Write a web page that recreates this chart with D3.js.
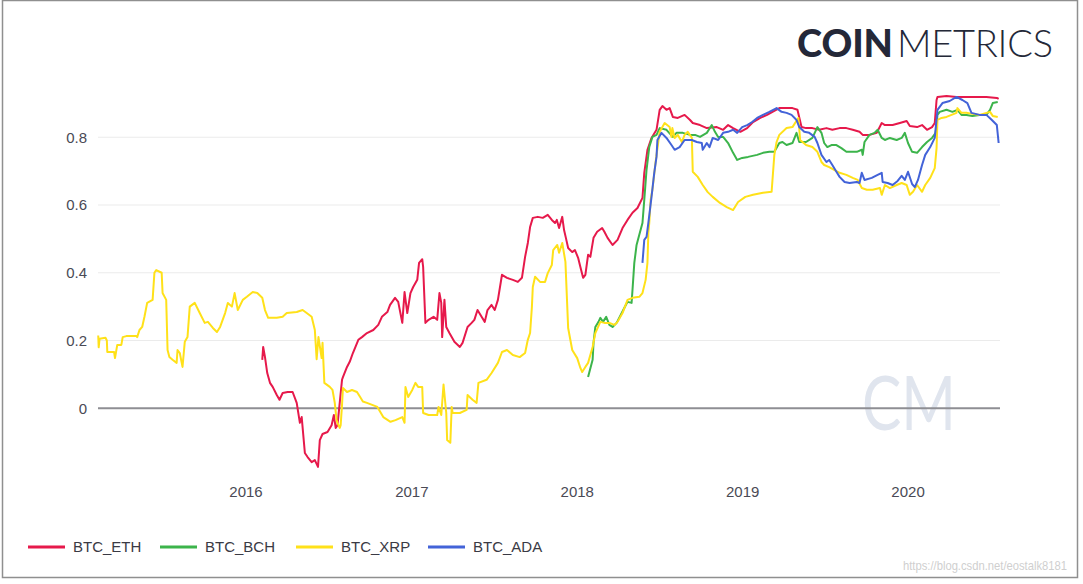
<!DOCTYPE html>
<meta charset="utf-8">
<script src="https://d3js.org/d3.v7.min.js"></script>
<style>
  body { margin: 0; background: #fff; }
  svg { display: block; }
</style>
<div id="chart"></div>
<script>
// series names and colours (legend order)
const seriesNames = ["BTC_ETH", "BTC_BCH", "BTC_XRP", "BTC_ADA"];
const seriesColors = ["#e6194b", "#3cb44b", "#ffe119", "#4363d8"];
const yTicks = [0, 0.2, 0.4, 0.6, 0.8];
const yTickLabels = ["0", "0.2", "0.4", "0.6", "0.8"];
const xTickYears = ["2016", "2017", "2018", "2019", "2020"];

// 90-day rolling correlation
const btcEth = [
  ["2016-02-07",0.143],["2016-02-09",0.181],["2016-02-13",0.151],["2016-02-18",0.104],["2016-02-24",0.075],
  ["2016-03-01",0.063],["2016-03-10",0.039],["2016-03-16",0.025],["2016-03-23",0.045],["2016-04-03",0.048],
  ["2016-04-14",0.048],["2016-04-23",0.016],["2016-04-30",-0.043],["2016-05-04",-0.026],["2016-05-11",-0.132],
  ["2016-05-17",-0.144],["2016-05-26",-0.159],["2016-06-02",-0.153],["2016-06-09",-0.173],["2016-06-13",-0.094],
  ["2016-06-19",-0.076],["2016-06-30",-0.07],["2016-07-09",-0.05],["2016-07-14",-0.02],["2016-07-18",-0.058],
  ["2016-07-22",-0.05],["2016-08-01",0.084],["2016-08-03",0.092],["2016-08-12",0.122],["2016-08-18",0.137],
  ["2016-08-25",0.163],["2016-09-06",0.202],["2016-09-14",0.21],["2016-09-25",0.222],["2016-10-09",0.231],
  ["2016-10-20",0.246],["2016-10-28",0.27],["2016-11-09",0.284],["2016-11-15",0.305],["2016-11-26",0.326],
  ["2016-12-03",0.314],["2016-12-12",0.252],["2016-12-17",0.343],["2016-12-23",0.281],["2016-12-30",0.34],
  ["2017-01-05",0.358],["2017-01-14",0.379],["2017-01-18",0.429],["2017-01-25",0.44],["2017-01-27",0.417],
  ["2017-02-01",0.252],["2017-02-08",0.261],["2017-02-19",0.27],["2017-02-27",0.261],["2017-03-04",0.34],
  ["2017-03-08",0.311],["2017-03-10",0.21],["2017-03-15",0.32],["2017-03-19",0.24],["2017-03-26",0.222],
  ["2017-04-06",0.196],["2017-04-18",0.181],["2017-04-24",0.193],["2017-05-05",0.24],["2017-05-14",0.252],
  ["2017-05-20",0.261],["2017-05-27",0.29],["2017-06-05",0.27],["2017-06-12",0.255],["2017-06-18",0.29],
  ["2017-06-27",0.305],["2017-07-04",0.29],["2017-07-11",0.32],["2017-07-20",0.394],["2017-07-31",0.385],
  ["2017-08-13",0.379],["2017-08-24",0.373],["2017-09-02",0.385],["2017-09-09",0.447],["2017-09-15",0.488],
  ["2017-09-20",0.535],["2017-09-26",0.562],["2017-10-07",0.565],["2017-10-18",0.562],["2017-10-29",0.571],
  ["2017-11-07",0.556],["2017-11-14",0.547],["2017-11-18",0.556],["2017-11-23",0.532],["2017-11-30",0.565],
  ["2017-12-04",0.526],["2017-12-08",0.503],["2017-12-13",0.473],["2017-12-22",0.461],["2017-12-28",0.467],
  ["2018-01-04",0.444],["2018-01-09",0.417],["2018-01-15",0.385],["2018-01-20",0.394],["2018-01-26",0.453],
  ["2018-01-31",0.447],["2018-02-07",0.503],["2018-02-15",0.521],["2018-02-26",0.532],["2018-03-03",0.521],
  ["2018-03-10",0.503],["2018-03-21",0.482],["2018-04-01",0.497],["2018-04-12",0.532],["2018-04-23",0.556],
  ["2018-05-04",0.577],["2018-05-15",0.591],["2018-05-26",0.621],["2018-05-30",0.695],["2018-06-06",0.763],
  ["2018-06-15",0.798],["2018-06-26",0.822],["2018-07-03",0.881],["2018-07-09",0.892],["2018-07-18",0.881],
  ["2018-07-25",0.886],["2018-08-01",0.86],["2018-08-12",0.857],["2018-08-27",0.866],["2018-09-08",0.851],
  ["2018-09-14",0.842],["2018-09-30",0.836],["2018-10-15",0.827],["2018-11-06",0.83],["2018-11-20",0.822],
  ["2018-12-01",0.836],["2018-12-12",0.827],["2018-12-28",0.816],["2019-01-12",0.827],["2019-01-25",0.845],
  ["2019-02-10",0.857],["2019-02-25",0.866],["2019-03-09",0.875],["2019-03-24",0.886],["2019-04-09",0.886],
  ["2019-04-22",0.886],["2019-05-03",0.881],["2019-05-12",0.83],["2019-05-22",0.827],["2019-06-05",0.827],
  ["2019-06-20",0.822],["2019-07-06",0.827],["2019-07-19",0.822],["2019-08-04",0.827],["2019-08-19",0.827],
  ["2019-09-02",0.822],["2019-09-17",0.816],["2019-09-24",0.807],["2019-10-09",0.807],["2019-10-25",0.813],
  ["2019-11-05",0.842],["2019-11-12",0.836],["2019-11-29",0.836],["2019-12-15",0.842],["2019-12-30",0.848],
  ["2020-01-06",0.833],["2020-01-22",0.83],["2020-02-02",0.836],["2020-02-13",0.822],["2020-02-24",0.83],
  ["2020-03-01",0.842],["2020-03-05",0.91],["2020-03-07",0.919],["2020-03-27",0.922],["2020-04-18",0.919],
  ["2020-05-10",0.919],["2020-06-01",0.919],["2020-06-23",0.919],["2020-07-16",0.916],["2020-07-20",0.913]
];

const btcBch = [
  ["2018-01-26",0.092],["2018-02-05",0.143],["2018-02-07",0.193],["2018-02-11",0.24],["2018-02-18",0.255],
  ["2018-02-22",0.267],["2018-02-28",0.255],["2018-03-07",0.27],["2018-03-14",0.246],["2018-03-21",0.24],
  ["2018-03-30",0.252],["2018-04-06",0.27],["2018-04-17",0.299],["2018-04-23",0.314],["2018-05-02",0.311],
  ["2018-05-04",0.349],["2018-05-08",0.429],["2018-05-13",0.482],["2018-05-19",0.512],["2018-05-26",0.547],
  ["2018-05-30",0.615],["2018-06-04",0.704],["2018-06-10",0.771],["2018-06-17",0.801],["2018-06-26",0.807],
  ["2018-07-03",0.827],["2018-07-18",0.822],["2018-08-01",0.801],["2018-08-09",0.813],["2018-08-23",0.813],
  ["2018-09-08",0.807],["2018-09-19",0.807],["2018-09-30",0.801],["2018-10-15",0.813],["2018-10-26",0.836],
  ["2018-11-02",0.816],["2018-11-09",0.801],["2018-11-20",0.801],["2018-12-01",0.783],["2018-12-12",0.754],
  ["2018-12-21",0.733],["2019-01-01",0.739],["2019-01-14",0.742],["2019-02-03",0.748],["2019-02-16",0.754],
  ["2019-03-02",0.757],["2019-03-13",0.757],["2019-03-24",0.783],["2019-03-31",0.786],["2019-04-09",0.777],
  ["2019-04-22",0.783],["2019-05-01",0.813],["2019-05-07",0.786],["2019-05-22",0.786],["2019-06-05",0.798],
  ["2019-06-16",0.83],["2019-06-25",0.813],["2019-07-01",0.783],["2019-07-08",0.771],["2019-07-17",0.777],
  ["2019-07-28",0.777],["2019-08-08",0.768],["2019-08-19",0.757],["2019-08-31",0.757],["2019-09-11",0.757],
  ["2019-09-22",0.763],["2019-09-24",0.748],["2019-09-28",0.786],["2019-10-09",0.807],["2019-10-20",0.813],
  ["2019-10-27",0.822],["2019-11-05",0.798],["2019-11-12",0.792],["2019-11-23",0.798],["2019-12-08",0.792],
  ["2019-12-19",0.798],["2019-12-26",0.813],["2020-01-02",0.783],["2020-01-11",0.757],["2020-01-22",0.754],
  ["2020-02-02",0.771],["2020-02-13",0.786],["2020-02-24",0.798],["2020-03-03",0.813],["2020-03-07",0.866],
  ["2020-03-12",0.875],["2020-03-27",0.881],["2020-04-09",0.875],["2020-04-20",0.881],["2020-04-29",0.866],
  ["2020-05-10",0.866],["2020-05-23",0.863],["2020-06-08",0.866],["2020-06-23",0.866],["2020-07-01",0.881],
  ["2020-07-07",0.901],["2020-07-18",0.904]
];

const btcXrp = [
  ["2015-02-10",0.215],["2015-02-11",0.18],["2015-02-13",0.205],["2015-02-26",0.208],["2015-03-01",0.20],
  ["2015-03-02",0.166],["2015-03-17",0.166],["2015-03-19",0.148],["2015-03-24",0.187],["2015-04-02",0.187],
  ["2015-04-05",0.21],["2015-04-13",0.213],["2015-05-05",0.213],["2015-05-07",0.21],["2015-05-12",0.231],
  ["2015-05-18",0.24],["2015-05-23",0.27],["2015-05-29",0.311],["2015-06-10",0.32],["2015-06-14",0.40],
  ["2015-06-18",0.408],["2015-06-30",0.40],["2015-07-02",0.34],["2015-07-10",0.32],["2015-07-13",0.172],
  ["2015-07-17",0.151],["2015-07-24",0.143],["2015-08-02",0.134],["2015-08-04",0.172],["2015-08-09",0.163],
  ["2015-08-15",0.122],["2015-08-20",0.196],["2015-08-26",0.21],["2015-08-31",0.30],["2015-09-11",0.311],
  ["2015-09-22",0.281],["2015-10-03",0.252],["2015-10-10",0.255],["2015-10-21",0.237],["2015-10-30",0.225],
  ["2015-11-06",0.24],["2015-11-17",0.281],["2015-11-23",0.311],["2015-12-02",0.30],["2015-12-08",0.34],
  ["2015-12-15",0.29],["2015-12-26",0.32],["2016-01-04",0.329],["2016-01-17",0.343],["2016-01-27",0.34],
  ["2016-02-07",0.326],["2016-02-13",0.29],["2016-02-20",0.267],["2016-03-10",0.267],["2016-03-23",0.27],
  ["2016-04-01",0.281],["2016-04-23",0.284],["2016-05-06",0.29],["2016-05-15",0.281],["2016-05-26",0.27],
  ["2016-06-02",0.231],["2016-06-06",0.145],["2016-06-10",0.21],["2016-06-17",0.148],["2016-06-19",0.193],
  ["2016-06-23",0.075],["2016-07-05",0.063],["2016-07-11",0.054],["2016-07-16",0.016],["2016-07-20",-0.035],
  ["2016-07-22",-0.043],["2016-07-27",-0.058],["2016-07-29",-0.05],["2016-08-01",0.01],["2016-08-03",0.06],
  ["2016-08-12",0.048],["2016-08-23",0.054],["2016-09-03",0.048],["2016-09-10",0.033],["2016-09-16",0.02],
  ["2016-09-25",0.016],["2016-10-18",0.004],["2016-10-31",-0.026],["2016-11-16",-0.04],["2016-11-27",-0.035],
  ["2016-12-12",-0.026],["2016-12-17",-0.043],["2016-12-19",0.063],["2016-12-25",0.033],["2017-01-03",0.054],
  ["2017-01-10",0.075],["2017-01-16",0.063],["2017-01-25",0.063],["2017-01-27",-0.014],["2017-02-08",-0.02],
  ["2017-02-27",-0.02],["2017-03-02",0.004],["2017-03-08",-0.02],["2017-03-13",0.07],["2017-03-19",-0.014],
  ["2017-03-21",-0.094],["2017-03-28",-0.102],["2017-03-31",0.004],["2017-04-02",-0.014],["2017-04-18",-0.014],
  ["2017-05-03",-0.005],["2017-05-05",0.039],["2017-05-16",0.025],["2017-05-25",0.016],["2017-05-29",0.075],
  ["2017-06-16",0.084],["2017-06-27",0.104],["2017-07-11",0.134],["2017-07-20",0.166],["2017-07-31",0.172],
  ["2017-08-13",0.157],["2017-08-28",0.151],["2017-09-09",0.163],["2017-09-15",0.202],["2017-09-20",0.222],
  ["2017-09-24",0.299],["2017-09-26",0.358],["2017-10-01",0.388],["2017-10-12",0.373],["2017-10-23",0.373],
  ["2017-10-29",0.399],["2017-11-07",0.423],["2017-11-10",0.467],["2017-11-19",0.482],["2017-11-23",0.459],
  ["2017-11-30",0.488],["2017-12-07",0.432],["2017-12-13",0.237],["2017-12-22",0.172],["2018-01-02",0.148],
  ["2018-01-09",0.119],["2018-01-13",0.107],["2018-01-20",0.122],["2018-01-26",0.134],["2018-02-05",0.181],
  ["2018-02-11",0.222],["2018-02-22",0.255],["2018-03-03",0.252],["2018-03-14",0.252],["2018-03-25",0.246],
  ["2018-04-01",0.255],["2018-04-12",0.281],["2018-04-23",0.32],["2018-05-04",0.326],["2018-05-19",0.329],
  ["2018-05-26",0.34],["2018-06-02",0.379],["2018-06-06",0.429],["2018-06-08",0.518],["2018-06-10",0.547],
  ["2018-06-13",0.615],["2018-06-17",0.645],["2018-06-24",0.727],["2018-07-03",0.816],["2018-07-14",0.842],
  ["2018-07-25",0.83],["2018-07-29",0.801],["2018-07-31",0.827],["2018-08-05",0.798],["2018-08-12",0.807],
  ["2018-08-21",0.786],["2018-08-27",0.807],["2018-09-03",0.816],["2018-09-12",0.798],["2018-09-14",0.698],
  ["2018-09-25",0.683],["2018-10-06",0.659],["2018-10-17",0.638],["2018-10-28",0.624],["2018-11-13",0.606],
  ["2018-11-28",0.594],["2018-12-12",0.585],["2018-12-23",0.609],["2019-01-08",0.624],["2019-01-25",0.63],
  ["2019-02-16",0.636],["2019-03-07",0.639],["2019-03-13",0.748],["2019-03-18",0.786],["2019-03-24",0.807],
  ["2019-04-09",0.827],["2019-04-22",0.83],["2019-05-05",0.857],["2019-05-09",0.792],["2019-05-22",0.777],
  ["2019-06-05",0.771],["2019-06-16",0.757],["2019-06-25",0.727],["2019-07-01",0.718],["2019-07-12",0.712],
  ["2019-07-23",0.704],["2019-08-04",0.695],["2019-08-19",0.689],["2019-09-02",0.68],["2019-09-13",0.674],
  ["2019-09-22",0.65],["2019-10-03",0.645],["2019-10-16",0.645],["2019-11-01",0.65],["2019-11-05",0.63],
  ["2019-11-12",0.659],["2019-11-23",0.65],["2019-12-08",0.659],["2019-12-19",0.665],["2019-12-30",0.659],
  ["2020-01-06",0.63],["2020-01-13",0.639],["2020-01-22",0.659],["2020-02-02",0.639],["2020-02-09",0.659],
  ["2020-02-20",0.68],["2020-03-01",0.709],["2020-03-05",0.768],["2020-03-07",0.851],["2020-03-16",0.857],
  ["2020-03-27",0.86],["2020-04-07",0.866],["2020-04-18",0.872],["2020-04-20",0.886],["2020-04-29",0.872],
  ["2020-05-10",0.872],["2020-05-23",0.869],["2020-06-08",0.866],["2020-06-23",0.872],["2020-07-01",0.875],
  ["2020-07-07",0.863],["2020-07-18",0.86]
];

const btcAda = [
  ["2018-05-26",0.429],["2018-05-30",0.497],["2018-06-04",0.506],["2018-06-08",0.547],["2018-06-15",0.624],
  ["2018-06-21",0.695],["2018-06-26",0.742],["2018-06-28",0.792],["2018-07-07",0.813],["2018-07-18",0.798],
  ["2018-07-29",0.777],["2018-08-05",0.763],["2018-08-16",0.771],["2018-08-27",0.792],["2018-09-12",0.792],
  ["2018-09-23",0.786],["2018-10-04",0.783],["2018-10-06",0.763],["2018-10-15",0.783],["2018-10-21",0.771],
  ["2018-10-28",0.798],["2018-11-09",0.792],["2018-11-20",0.813],["2018-12-01",0.816],["2018-12-12",0.822],
  ["2018-12-21",0.813],["2019-01-01",0.83],["2019-01-12",0.836],["2019-01-23",0.845],["2019-02-03",0.857],
  ["2019-02-16",0.866],["2019-03-02",0.875],["2019-03-18",0.886],["2019-03-29",0.875],["2019-04-09",0.872],
  ["2019-04-20",0.866],["2019-05-01",0.851],["2019-05-07",0.83],["2019-05-18",0.816],["2019-05-29",0.813],
  ["2019-06-10",0.801],["2019-06-16",0.783],["2019-06-25",0.748],["2019-07-06",0.727],["2019-07-12",0.733],
  ["2019-07-19",0.718],["2019-07-28",0.698],["2019-08-04",0.683],["2019-08-15",0.668],["2019-08-26",0.665],
  ["2019-09-11",0.668],["2019-09-17",0.665],["2019-09-22",0.695],["2019-09-28",0.674],["2019-10-14",0.68],
  ["2019-10-27",0.689],["2019-11-05",0.695],["2019-11-07",0.668],["2019-11-18",0.665],["2019-11-29",0.659],
  ["2019-12-10",0.671],["2019-12-19",0.686],["2019-12-26",0.674],["2020-01-02",0.698],["2020-01-11",0.662],
  ["2020-01-17",0.653],["2020-01-24",0.674],["2020-02-02",0.718],["2020-02-09",0.748],["2020-02-20",0.771],
  ["2020-03-01",0.798],["2020-03-07",0.881],["2020-03-18",0.901],["2020-04-03",0.907],["2020-04-18",0.919],
  ["2020-05-01",0.91],["2020-05-12",0.901],["2020-05-21",0.872],["2020-06-08",0.866],["2020-06-23",0.866],
  ["2020-07-05",0.851],["2020-07-16",0.836],["2020-07-20",0.783]
];

const seriesData = [btcEth, btcBch, btcXrp, btcAda];
const parseDate = d3.timeParse("%Y-%m-%d");

const width = 1083, height = 584;
const svg = d3.select("#chart").append("svg")
    .attr("width", width)
    .attr("height", height);

// frame round the picture
svg.append("rect")
    .attr("x", 2.5).attr("y", 0.5)
    .attr("width", 1075).attr("height", 577)
    .attr("fill", "#fff")
    .attr("stroke", "#8f8f8f")
    .attr("stroke-width", 1.5);

var x = d3.scaleTime()
    .domain([new Date(2015, 1, 9, 12), new Date(2020, 6, 23)])
    .range([98, 1000]);
var y = d3.scaleLinear()
    .domain([-0.2, 1])
    .range([476, 69.5]);

// gridlines
svg.append("g")
  .selectAll("line")
  .data(yTicks.filter(d => d !== 0))
  .join("line")
    .attr("x1", x.range()[0]).attr("x2", x.range()[1])
    .attr("y1", d => y(d)).attr("y2", d => y(d))
    .attr("stroke", "#ebebeb")
    .attr("stroke-width", 1);

// watermark CM
svg.append("text")
    .attr("x", 862).attr("y", 430)
    .attr("font-family", "Lato")
    .attr("font-weight", 400)
    .attr("font-size", 76)
    .attr("textLength", 94)
    .attr("lengthAdjust", "spacingAndGlyphs")
    .attr("fill", "#e0e5ee")
    .text("CM");

// zero line
svg.append("line")
    .attr("x1", x.range()[0]).attr("x2", x.range()[1])
    .attr("y1", y(0)).attr("y2", y(0))
    .attr("stroke", "#8e8e93")
    .attr("stroke-width", 2);

// y axis labels
svg.append("g")
  .selectAll("text")
  .data(yTicks)
  .join("text")
    .attr("x", 87)
    .attr("y", d => y(d))
    .attr("dy", "0.35em")
    .attr("text-anchor", "end")
    .attr("font-family", "Liberation Sans, Arial, sans-serif")
    .attr("font-size", 15)
    .attr("fill", "#4a4a55")
    .text((d, i) => yTickLabels[i]);

// x axis labels
var xAxis = d3.axisBottom(x)
    .tickValues(xTickYears.map(s => parseDate(s + "-01-01")))
    .tickFormat(d3.timeFormat("%Y"))
    .tickSize(0)
    .tickPadding(0);
var gx = svg.append("g")
    .attr("transform", "translate(0,486)")
    .call(xAxis);
gx.select(".domain").remove();
gx.selectAll("text")
    .attr("font-family", "Liberation Sans, Arial, sans-serif")
    .attr("font-size", 15)
    .attr("fill", "#4a4a55");

// lines
var line = d3.line()
    .x(d => x(parseDate(d[0])))
    .y(d => y(d[1]));

seriesData.forEach(function (data, i) {
  svg.append("path")
    .datum(data)
    .attr("d", line)
    .attr("fill", "none")
    .attr("stroke", seriesColors[i])
    .attr("stroke-width", 2)
    .attr("stroke-linejoin", "round");
});

// legend
var legendX = [28, 160, 296, 428];
var legend = svg.append("g");
seriesNames.forEach(function (name, i) {
  legend.append("line")
    .attr("x1", legendX[i]).attr("x2", legendX[i] + 37)
    .attr("y1", 547).attr("y2", 547)
    .attr("stroke", seriesColors[i])
    .attr("stroke-width", 3);
  legend.append("text")
    .attr("x", legendX[i] + 45)
    .attr("y", 547)
    .attr("dy", "0.35em")
    .attr("font-family", "Liberation Sans, Arial, sans-serif")
    .attr("font-size", 15)
    .attr("fill", "#3a3a44")
    .text(name);
});

// logo
var logo = svg.append("text")
    .attr("y", 57)
    .attr("font-family", "Lato")
    .attr("font-size", 38)
    .attr("fill", "#242838");
logo.append("tspan")
    .attr("x", 797)
    .attr("font-weight", 900)
    .attr("textLength", 96)
    .text("COIN");
logo.append("tspan")
    .attr("x", 897)
    .attr("font-weight", 300)
    .attr("textLength", 156)
    .text("METRICS");

// source watermark
svg.append("text")
    .attr("x", 903).attr("y", 570)
    .attr("font-family", "Liberation Sans, Arial, sans-serif")
    .attr("font-size", 13)
    .attr("textLength", 164)
    .attr("lengthAdjust", "spacingAndGlyphs")
    .attr("fill", "#cfcfcf")
    .text("https://blog.csdn.net/eostalk8181");
</script>
